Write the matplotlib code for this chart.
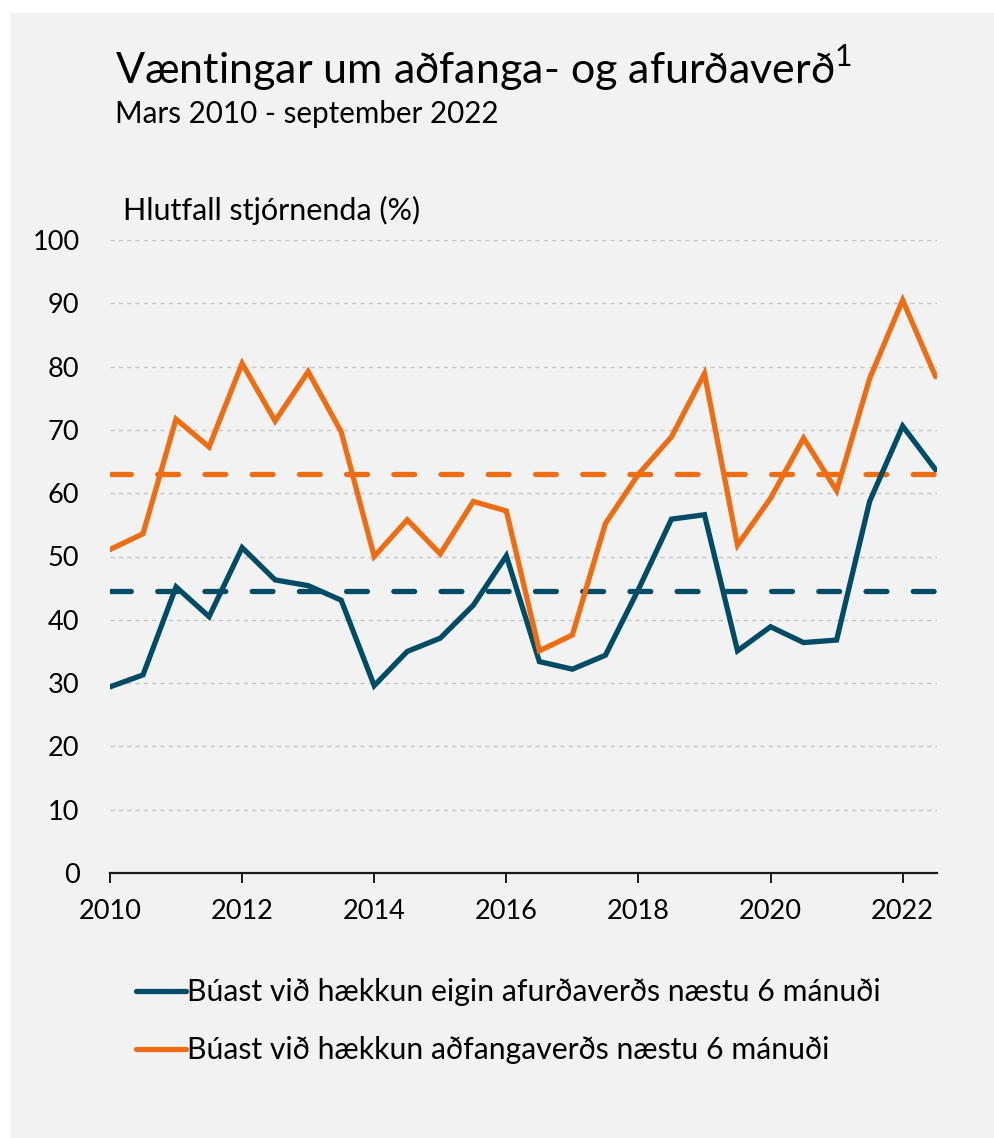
import matplotlib
matplotlib.use("Agg")
import matplotlib.pyplot as plt
from matplotlib.patches import Rectangle
import numpy as np

plt.rcParams['font.family'] = ['Lato', 'DejaVu Sans']
plt.rcParams['mathtext.fontset'] = 'custom'
plt.rcParams['mathtext.rm'] = 'Lato'

# ---- data ----
periods = ["mar 2010", "sep 2010", "mar 2011", "sep 2011", "mar 2012", "sep 2012",
           "mar 2013", "sep 2013", "mar 2014", "sep 2014", "mar 2015", "sep 2015",
           "mar 2016", "sep 2016", "mar 2017", "sep 2017", "mar 2018", "sep 2018",
           "mar 2019", "sep 2019", "mar 2020", "sep 2020", "mar 2021", "sep 2021",
           "mar 2022", "sep 2022"]
x_years = [2010.0, 2010.5, 2011.0, 2011.5, 2012.0, 2012.5, 2013.0, 2013.5, 2014.0,
           2014.5, 2015.0, 2015.5, 2016.0, 2016.5, 2017.0, 2017.5, 2018.0, 2018.5,
           2019.0, 2019.5, 2020.0, 2020.5, 2021.0, 2021.5, 2022.0, 2022.5]
afurdaverd = [29.4, 31.3, 45.2, 40.5, 51.4, 46.3, 45.4, 43.1, 29.6, 35.0, 37.1, 42.3,
              50.1, 33.4, 32.2, 34.4, 44.8, 55.9, 56.6, 35.1, 38.9, 36.4, 36.8, 58.7,
              70.6, 63.7]
adfangaverd = [51.1, 53.6, 71.7, 67.3, 80.5, 71.4, 79.2, 69.7, 50.0, 55.8, 50.4, 58.7,
               57.2, 35.1, 37.6, 55.2, 63.0, 68.9, 78.9, 51.8, 59.2, 68.7, 60.4, 78.1,
               90.5, 78.4]
avg_afurdaverd = 44.5
avg_adfangaverd = 63.1
x_ticks = [2010, 2012, 2014, 2016, 2018, 2020, 2022]
y_ticks = [0, 10, 20, 30, 40, 50, 60, 70, 80, 90, 100]
labels = ["Búast við hækkun eigin afurðaverðs næstu 6 mánuði",
          "Búast við hækkun aðfangaverðs næstu 6 mánuði"]

BLUE = '#004c66'
ORANGE = '#ee6c12'

W, H = 995, 1138
fig = plt.figure(figsize=(W / 100, H / 100), dpi=100)
fig.patch.set_facecolor('white')
fig.patches.append(Rectangle((10 / W, 0), 1, 1 - 13 / H, transform=fig.transFigure,
                             facecolor='#f2f2f2', edgecolor='none', zorder=-10))

ax = fig.add_axes([110 / W, 1 - 873 / H, (937 - 110) / W, (873 - 240) / H])
ax.set_facecolor('none')

plt.rcParams['lines.scale_dashes'] = False
lw = 3.8
l1, = ax.plot(x_years, afurdaverd, color=BLUE, lw=lw, solid_joinstyle='miter',
              solid_capstyle='round', zorder=4)
l2, = ax.plot(x_years, adfangaverd, color=ORANGE, lw=lw, solid_joinstyle='miter',
              solid_capstyle='round', zorder=4)
ax.plot([x_years[0], x_years[-1]], [avg_afurdaverd] * 2, color=BLUE, lw=lw,
        dashes=(15, 19), dash_capstyle='round', zorder=3)
ax.plot([x_years[0], x_years[-1]], [avg_adfangaverd] * 2, color=ORANGE, lw=lw,
        dashes=(15, 19), dash_capstyle='round', zorder=3)

ax.set_xlim(x_years[0], x_years[-1] + 0.02)
ax.set_ylim(0, 100)
ax.set_yticks(y_ticks)
ax.set_xticks(x_ticks)
ax.set_xticklabels([str(t) for t in x_ticks])
ax.yaxis.grid(True, color='#c6c6c6', lw=1.0, ls=(0, (3, 3)))
ax.set_axisbelow(True)
for s in ['left', 'right', 'top']:
    ax.spines[s].set_visible(False)
ax.spines['bottom'].set_linewidth(1.6)
ax.spines['bottom'].set_color('#1a1a1a')
ax.tick_params(axis='y', length=0, pad=22, labelsize=19.5, colors='black')
ax.tick_params(axis='x', length=7, width=1.4, direction='out', pad=12,
               labelsize=19.5, colors='black')
ax.tick_params(axis='x', color='#1a1a1a')

fig.text(115 / W, 1 - 68 / H, "Væntingar um aðfanga- og afurðaverð$^{1}$",
         fontsize=31, va='center', ha='left')
fig.text(115 / W, 1 - 114 / H, "Mars 2010 - september 2022",
         fontsize=21.3, va='center', ha='left')
fig.text(123 / W, 1 - 210 / H, "Hlutfall stjórnenda (%)",
         fontsize=22, va='center', ha='left')

fig.legend([l1, l2], labels, loc='upper left', bbox_to_anchor=(124 / W, 1 - 966 / H),
           frameon=False, fontsize=21.7, handlelength=1.65, handletextpad=0.05,
           labelspacing=1.0, borderaxespad=0)

fig.savefig('out.png', dpi=100, facecolor=fig.get_facecolor())
